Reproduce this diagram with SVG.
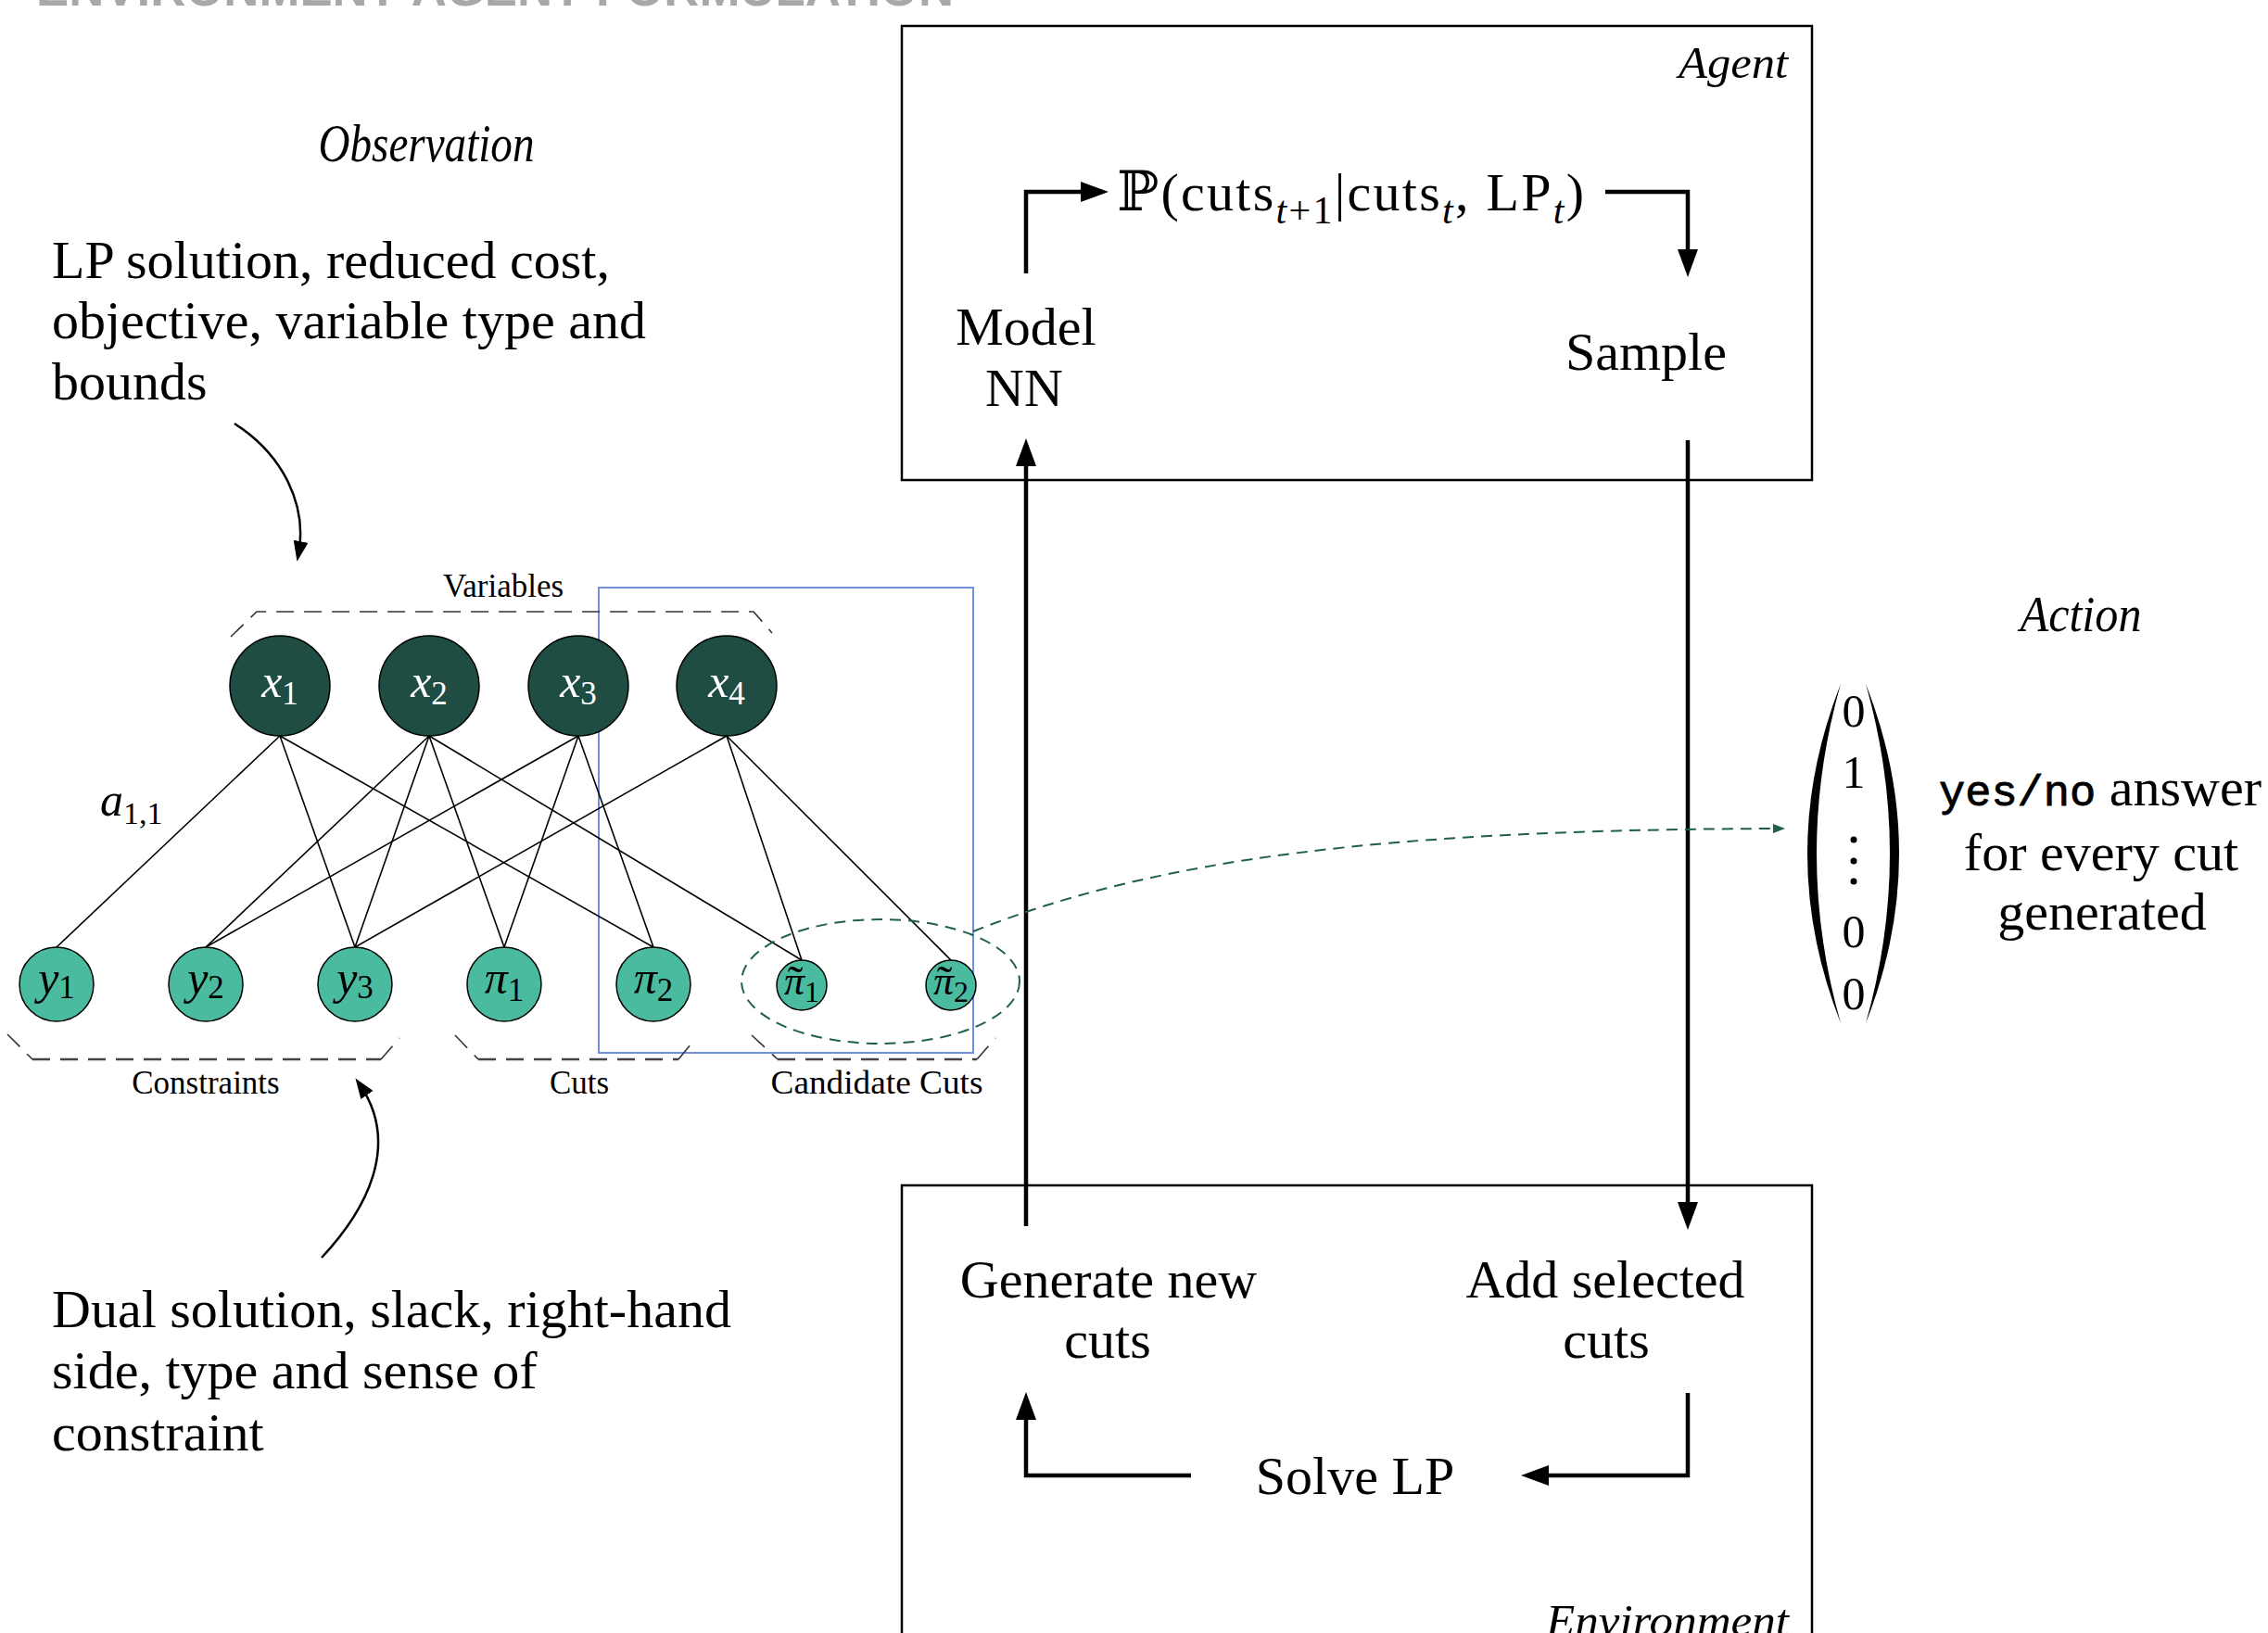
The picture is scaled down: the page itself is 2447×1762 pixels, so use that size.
<svg xmlns="http://www.w3.org/2000/svg" width="2447" height="1762" viewBox="0 0 2447 1762">
<style>
.t{font-family:"Liberation Serif","Times New Roman",serif;fill:#000}
.m{font-size:58px}
.it{font-style:italic}
.s{font-size:35px}
.box{fill:none;stroke:#000;stroke-width:2.5}
.edge{stroke:#000;stroke-width:1.6;fill:none}
.thick{stroke:#000;stroke-width:4.5;fill:none}
.dk{fill:#1f4d43;stroke:#000;stroke-width:1.5}
.lt{fill:#4bbba0;stroke:#000;stroke-width:1.5}
.grp{fill:none;stroke:#333;stroke-width:1.6;stroke-dasharray:19 11}
.grpb{fill:none;stroke:#444;stroke-width:2.6;stroke-dasharray:19 11}
.gd{fill:none;stroke:#1f5f50;stroke-width:2;stroke-dasharray:12 8}
</style>
<defs>
<marker id="ah" markerUnits="userSpaceOnUse" markerWidth="30" markerHeight="22" refX="20" refY="11" orient="auto"><path d="M0 0 L30 11 L0 22 z" fill="#000"/></marker>
<marker id="ahc" markerUnits="userSpaceOnUse" markerWidth="22" markerHeight="16" refX="14" refY="8" orient="auto"><path d="M0 0 L22 8 L0 16 z" fill="#000"/></marker>
<marker id="ahg" markerUnits="userSpaceOnUse" markerWidth="13" markerHeight="10" refX="9" refY="5" orient="auto"><path d="M0 0 L13 5 L0 10 z" fill="#1f5f50"/></marker>
</defs>
<rect width="2447" height="1762" fill="#fff"/>

<text x="39" y="6" textLength="990" lengthAdjust="spacingAndGlyphs" style="font-family:'Liberation Sans',Arial,sans-serif;font-size:52px;font-weight:bold;fill:#a8a8a8">ENVIRONMENT-AGENT FORMULATION</text>

<g id="observation-label"><text class="t m it" x="460" y="174" text-anchor="middle" textLength="233" lengthAdjust="spacingAndGlyphs">Observation</text></g>
<g id="var-features">
<text class="t m" x="56" y="300">LP solution, reduced cost,</text>
<text class="t m" x="56" y="365">objective, variable type and</text>
<text class="t m" x="56" y="431">bounds</text>
</g>
<g id="con-features">
<text class="t m" x="56" y="1432">Dual solution, slack, right-hand</text>
<text class="t m" x="56" y="1498">side, type and sense of</text>
<text class="t m" x="56" y="1565">constraint</text>
</g>

<g id="candidate-box"><rect x="646" y="634" width="404" height="502" fill="none" stroke="#6f8fe0" stroke-width="2"/></g>

<g id="groups">
<path class="grp" d="M249 687 L277 660 L813 660 L833 683"/>
<text class="t s" x="543" y="644" text-anchor="middle">Variables</text>
<path class="grp" d="M8 1116 L35 1143"/>
<path class="grpb" d="M35 1143 L411 1143"/>
<path class="grp" d="M411 1143 L431 1120"/>
<text class="t s" x="222" y="1180" text-anchor="middle">Constraints</text>
<path class="grp" d="M491 1117 L516 1143"/>
<path class="grpb" d="M516 1143 L732 1143"/>
<path class="grp" d="M732 1143 L751 1120"/>
<text class="t s" x="625" y="1180" text-anchor="middle">Cuts</text>
<path class="grp" d="M811 1117 L839 1143"/>
<path class="grpb" d="M839 1143 L1054 1143"/>
<path class="grp" d="M1054 1143 L1074 1120"/>
<text class="t s" x="946" y="1180" text-anchor="middle" textLength="229" lengthAdjust="spacingAndGlyphs">Candidate Cuts</text>
</g>

<g id="connectors">
<line class="edge" x1="302" y1="794" x2="61" y2="1022"/>
<line class="edge" x1="302" y1="794" x2="383" y2="1022"/>
<line class="edge" x1="302" y1="794" x2="705" y2="1022"/>
<line class="edge" x1="463" y1="794" x2="222" y2="1022"/>
<line class="edge" x1="463" y1="794" x2="383" y2="1022"/>
<line class="edge" x1="463" y1="794" x2="544" y2="1022"/>
<line class="edge" x1="463" y1="794" x2="865" y2="1036"/>
<line class="edge" x1="624" y1="794" x2="222" y2="1022"/>
<line class="edge" x1="624" y1="794" x2="544" y2="1022"/>
<line class="edge" x1="624" y1="794" x2="705" y2="1022"/>
<line class="edge" x1="784" y1="794" x2="383" y2="1022"/>
<line class="edge" x1="784" y1="794" x2="865" y2="1036"/>
<line class="edge" x1="784" y1="794" x2="1026" y2="1036"/>

<path d="M253 457 C305 490 332 545 322 598" fill="none" stroke="#000" stroke-width="2.5" marker-end="url(#ahc)"/>
<path d="M347 1357 C405 1295 428 1228 388 1170" fill="none" stroke="#000" stroke-width="2.5" marker-end="url(#ahc)"/>

<path class="thick" d="M1107 295 L1107 207 L1186 207" marker-end="url(#ah)"/>
<path class="thick" d="M1732 207 L1821 207 L1821 289" marker-end="url(#ah)"/>
<path class="thick" d="M1821 475 L1821 1317" marker-end="url(#ah)"/>
<path class="thick" d="M1107 1323 L1107 483" marker-end="url(#ah)"/>
<path class="thick" d="M1285 1592 L1107 1592 L1107 1512" marker-end="url(#ah)"/>
<path class="thick" d="M1821 1503 L1821 1592 L1651 1592" marker-end="url(#ah)"/>

<path class="gd" d="M1050 1005 C1250 925 1500 895 1922 894" marker-end="url(#ahg)"/>
</g>

<g id="var-nodes">
<g id="x1"><circle class="dk" cx="302" cy="740" r="54"/><text class="t" x="302" y="752" text-anchor="middle" style="fill:#fff;font-size:50px"><tspan font-style="italic">x</tspan><tspan font-size="35" dy="8">1</tspan></text></g>
<g id="x2"><circle class="dk" cx="463" cy="740" r="54"/><text class="t" x="463" y="752" text-anchor="middle" style="fill:#fff;font-size:50px"><tspan font-style="italic">x</tspan><tspan font-size="35" dy="8">2</tspan></text></g>
<g id="x3"><circle class="dk" cx="624" cy="740" r="54"/><text class="t" x="624" y="752" text-anchor="middle" style="fill:#fff;font-size:50px"><tspan font-style="italic">x</tspan><tspan font-size="35" dy="8">3</tspan></text></g>
<g id="x4"><circle class="dk" cx="784" cy="740" r="54"/><text class="t" x="784" y="752" text-anchor="middle" style="fill:#fff;font-size:50px"><tspan font-style="italic">x</tspan><tspan font-size="35" dy="8">4</tspan></text></g>
</g>

<g id="con-nodes">
<g id="y1"><circle class="lt" cx="61" cy="1062" r="40"/><text class="t" x="61" y="1072" text-anchor="middle" style="font-size:50px"><tspan font-style="italic">y</tspan><tspan font-size="35" dy="5">1</tspan></text></g>
<g id="y2"><circle class="lt" cx="222" cy="1062" r="40"/><text class="t" x="222" y="1072" text-anchor="middle" style="font-size:50px"><tspan font-style="italic">y</tspan><tspan font-size="35" dy="5">2</tspan></text></g>
<g id="y3"><circle class="lt" cx="383" cy="1062" r="40"/><text class="t" x="383" y="1072" text-anchor="middle" style="font-size:50px"><tspan font-style="italic">y</tspan><tspan font-size="35" dy="5">3</tspan></text></g>
<g id="pi1"><circle class="lt" cx="544" cy="1062" r="40"/><text class="t" x="544" y="1072" text-anchor="middle" style="font-size:50px"><tspan font-style="italic">π</tspan><tspan font-size="35" dy="8">1</tspan></text></g>
<g id="pi2"><circle class="lt" cx="705" cy="1062" r="40"/><text class="t" x="705" y="1072" text-anchor="middle" style="font-size:50px"><tspan font-style="italic">π</tspan><tspan font-size="35" dy="8">2</tspan></text></g>
<g id="pit1"><circle class="lt" cx="865" cy="1063" r="27"/><text class="t" x="865" y="1073" text-anchor="middle" style="font-size:44px"><tspan font-style="italic">π</tspan><tspan font-size="32" dy="8">1</tspan><tspan x="858" y="1077" font-size="50">˜</tspan></text></g>
<g id="pit2"><circle class="lt" cx="1026" cy="1063" r="27"/><text class="t" x="1026" y="1073" text-anchor="middle" style="font-size:44px"><tspan font-style="italic">π</tspan><tspan font-size="32" dy="8">2</tspan><tspan x="1019" y="1077" font-size="50">˜</tspan></text></g>
</g>

<g id="edge-label"><text class="t" x="108" y="880" style="font-size:50px"><tspan font-style="italic">a</tspan><tspan font-size="34" dy="9">1,1</tspan></text></g>

<g id="candidate-ellipse"><ellipse class="gd" cx="950" cy="1059" rx="150" ry="67"/></g>

<g id="agent">
<rect class="box" x="973" y="28" width="982" height="490"/>
<text class="t it" x="1929" y="84" text-anchor="end" style="font-size:48px" textLength="118" lengthAdjust="spacingAndGlyphs">Agent</text>
</g>
<g id="model-nn"><text class="t m" x="1107" y="372" text-anchor="middle">Model</text><text class="t m" x="1105" y="438" text-anchor="middle">NN</text></g>
<g id="policy"><text class="t m" x="1205" y="227" textLength="504" lengthAdjust="spacing"><tspan style="font-family:'DejaVu Serif',serif;font-size:60px">ℙ</tspan>(cuts<tspan font-size="42" dy="14"><tspan font-style="italic">t</tspan>+1</tspan><tspan dy="-14">|cuts</tspan><tspan font-size="42" dy="14" font-style="italic">t</tspan><tspan dy="-14">, LP</tspan><tspan font-size="42" dy="14" font-style="italic">t</tspan><tspan dy="-14">)</tspan></text></g>
<g id="sample"><text class="t m" x="1776" y="399" text-anchor="middle">Sample</text></g>

<g id="environment">
<rect class="box" x="973" y="1279" width="982" height="520"/>
<text class="t it" x="1930" y="1765" text-anchor="end" style="font-size:48px" textLength="262" lengthAdjust="spacingAndGlyphs">Environment</text>
</g>
<g id="generate"><text class="t m" x="1196" y="1400" text-anchor="middle">Generate new</text><text class="t m" x="1195" y="1465" text-anchor="middle">cuts</text></g>
<g id="add"><text class="t m" x="1732" y="1400" text-anchor="middle">Add selected</text><text class="t m" x="1733" y="1465" text-anchor="middle">cuts</text></g>
<g id="solve"><text class="t m" x="1462" y="1612" text-anchor="middle">Solve LP</text></g>

<g id="action">
<text class="t it" x="2245" y="681" text-anchor="middle" style="font-size:54px" textLength="131" lengthAdjust="spacingAndGlyphs">Action</text>
<path d="M1986 738 Q1914 921 1986 1104 Q1934 921 1986 738 Z" fill="#000"/>
<path d="M2013 738 Q2085 921 2013 1104 Q2065 921 2013 738 Z" fill="#000"/>
<text class="t" x="2000" y="784" text-anchor="middle" style="font-size:50px">0</text>
<text class="t" x="2000" y="850" text-anchor="middle" style="font-size:50px">1</text>
<circle cx="2000" cy="906" r="3.5"/><circle cx="2000" cy="929" r="3.5"/><circle cx="2000" cy="951" r="3.5"/>
<text class="t" x="2000" y="1022" text-anchor="middle" style="font-size:50px">0</text>
<text class="t" x="2000" y="1089" text-anchor="middle" style="font-size:50px">0</text>
<text class="t m" x="2092" y="869"><tspan style="font-family:'Liberation Mono','Courier New',monospace;font-size:47px;stroke:#000;stroke-width:0.9">yes/no</tspan> answer</text>
<text class="t m" x="2267" y="939" text-anchor="middle">for every cut</text>
<text class="t m" x="2268" y="1003" text-anchor="middle">generated</text>
</g>
</svg>
